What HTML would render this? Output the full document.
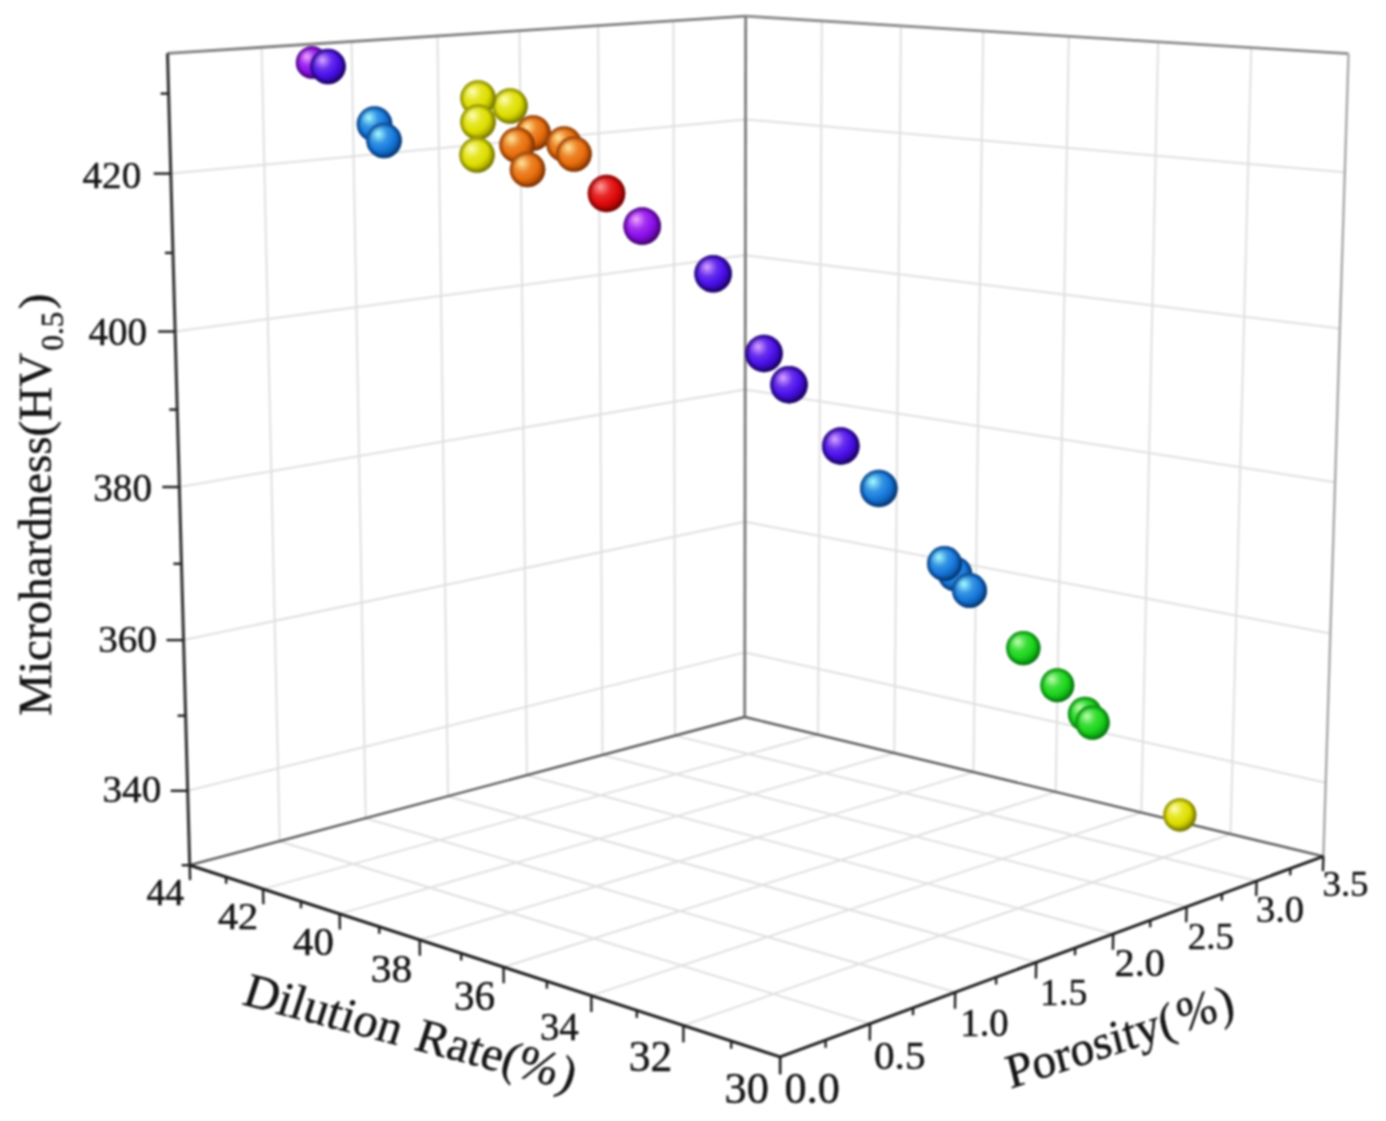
<!DOCTYPE html>
<html><head><meta charset="utf-8"><style>
html,body{margin:0;padding:0;background:#fff;}
svg{display:block;filter:blur(0.9px);}
text{font-family:"Liberation Serif",serif;fill:#141414;stroke:#141414;stroke-width:0.45px;}
</style></head><body>
<svg width="1386" height="1121" viewBox="0 0 1386 1121">
<defs><radialGradient id="gmag" cx="0.38" cy="0.36" r="0.78" fx="0.34" fy="0.32"><stop offset="0" stop-color="#f4a8ff"/><stop offset="0.13" stop-color="#d073f8"/><stop offset="0.32" stop-color="#a12ef0"/><stop offset="0.55" stop-color="#8c10ec"/><stop offset="0.82" stop-color="#5b0698"/><stop offset="1" stop-color="#3a0060"/></radialGradient><radialGradient id="rmag" cx="0.5" cy="0.5" r="0.5"><stop offset="0.72" stop-color="#3a0060" stop-opacity="0"/><stop offset="1" stop-color="#3a0060" stop-opacity="0.75"/></radialGradient><radialGradient id="gvio" cx="0.38" cy="0.36" r="0.78" fx="0.34" fy="0.32"><stop offset="0" stop-color="#dca8ff"/><stop offset="0.13" stop-color="#a973f8"/><stop offset="0.32" stop-color="#672eee"/><stop offset="0.55" stop-color="#4a10ea"/><stop offset="0.82" stop-color="#2a068e"/><stop offset="1" stop-color="#140050"/></radialGradient><radialGradient id="rvio" cx="0.5" cy="0.5" r="0.5"><stop offset="0.72" stop-color="#140050" stop-opacity="0"/><stop offset="1" stop-color="#140050" stop-opacity="0.75"/></radialGradient><radialGradient id="gblu" cx="0.38" cy="0.36" r="0.78" fx="0.34" fy="0.32"><stop offset="0" stop-color="#a8ffff"/><stop offset="0.13" stop-color="#76d0f3"/><stop offset="0.32" stop-color="#3593e3"/><stop offset="0.55" stop-color="#1878dc"/><stop offset="0.82" stop-color="#0a4c95"/><stop offset="1" stop-color="#002e66"/></radialGradient><radialGradient id="rblu" cx="0.5" cy="0.5" r="0.5"><stop offset="0.72" stop-color="#002e66" stop-opacity="0"/><stop offset="1" stop-color="#002e66" stop-opacity="0.75"/></radialGradient><radialGradient id="ggrn" cx="0.38" cy="0.36" r="0.78" fx="0.34" fy="0.32"><stop offset="0" stop-color="#c0ffb0"/><stop offset="0.13" stop-color="#87f07c"/><stop offset="0.32" stop-color="#3ddd3a"/><stop offset="0.55" stop-color="#1cd41c"/><stop offset="0.82" stop-color="#0b9412"/><stop offset="1" stop-color="#006a0c"/></radialGradient><radialGradient id="rgrn" cx="0.5" cy="0.5" r="0.5"><stop offset="0.72" stop-color="#006a0c" stop-opacity="0"/><stop offset="1" stop-color="#006a0c" stop-opacity="0.75"/></radialGradient><radialGradient id="gyel" cx="0.38" cy="0.36" r="0.78" fx="0.34" fy="0.32"><stop offset="0" stop-color="#ffffb8"/><stop offset="0.13" stop-color="#f3f378"/><stop offset="0.32" stop-color="#e5e525"/><stop offset="0.55" stop-color="#dede00"/><stop offset="0.82" stop-color="#989800"/><stop offset="1" stop-color="#6a6a00"/></radialGradient><radialGradient id="ryel" cx="0.5" cy="0.5" r="0.5"><stop offset="0.72" stop-color="#6a6a00" stop-opacity="0"/><stop offset="1" stop-color="#6a6a00" stop-opacity="0.75"/></radialGradient><radialGradient id="gorg" cx="0.38" cy="0.36" r="0.78" fx="0.34" fy="0.32"><stop offset="0" stop-color="#ffe8a0"/><stop offset="0.13" stop-color="#f7bd6c"/><stop offset="0.32" stop-color="#ed862a"/><stop offset="0.55" stop-color="#e86e0c"/><stop offset="0.82" stop-color="#a04405"/><stop offset="1" stop-color="#702800"/></radialGradient><radialGradient id="rorg" cx="0.5" cy="0.5" r="0.5"><stop offset="0.72" stop-color="#702800" stop-opacity="0"/><stop offset="1" stop-color="#702800" stop-opacity="0.75"/></radialGradient><radialGradient id="gred" cx="0.38" cy="0.36" r="0.78" fx="0.34" fy="0.32"><stop offset="0" stop-color="#ffa0a0"/><stop offset="0.13" stop-color="#f46c6c"/><stop offset="0.32" stop-color="#e62828"/><stop offset="0.55" stop-color="#e00a0a"/><stop offset="0.82" stop-color="#970404"/><stop offset="1" stop-color="#660000"/></radialGradient><radialGradient id="rred" cx="0.5" cy="0.5" r="0.5"><stop offset="0.72" stop-color="#660000" stop-opacity="0"/><stop offset="1" stop-color="#660000" stop-opacity="0.75"/></radialGradient></defs>
<rect width="1386" height="1121" fill="#fff"/>
<line x1="279.7" y1="841.2" x2="261.6" y2="47.4" stroke="#e0e0e0" stroke-width="2.0"/>
<line x1="365.7" y1="818.2" x2="351.5" y2="41.6" stroke="#e0e0e0" stroke-width="2.0"/>
<line x1="448.0" y1="796.3" x2="437.4" y2="36.0" stroke="#e0e0e0" stroke-width="2.0"/>
<line x1="526.9" y1="775.2" x2="519.5" y2="30.8" stroke="#e0e0e0" stroke-width="2.0"/>
<line x1="602.5" y1="755.0" x2="598.1" y2="25.7" stroke="#e0e0e0" stroke-width="2.0"/>
<line x1="675.0" y1="735.6" x2="673.4" y2="20.8" stroke="#e0e0e0" stroke-width="2.0"/>
<line x1="187.7" y1="790.8" x2="744.8" y2="652.4" stroke="#e0e0e0" stroke-width="2.0"/>
<line x1="183.5" y1="640.1" x2="745.0" y2="521.8" stroke="#e0e0e0" stroke-width="2.0"/>
<line x1="179.3" y1="487.0" x2="745.2" y2="389.5" stroke="#e0e0e0" stroke-width="2.0"/>
<line x1="175.1" y1="331.5" x2="745.3" y2="255.3" stroke="#e0e0e0" stroke-width="2.0"/>
<line x1="170.7" y1="173.6" x2="745.5" y2="119.4" stroke="#e0e0e0" stroke-width="2.0"/>
<line x1="1230.5" y1="834.0" x2="1251.3" y2="47.5" stroke="#e0e0e0" stroke-width="2.0"/>
<line x1="1141.3" y1="812.5" x2="1158.1" y2="41.8" stroke="#e0e0e0" stroke-width="2.0"/>
<line x1="1055.7" y1="791.9" x2="1068.8" y2="36.2" stroke="#e0e0e0" stroke-width="2.0"/>
<line x1="973.4" y1="772.1" x2="983.2" y2="30.9" stroke="#e0e0e0" stroke-width="2.0"/>
<line x1="894.3" y1="753.0" x2="900.9" y2="25.8" stroke="#e0e0e0" stroke-width="2.0"/>
<line x1="818.1" y1="734.7" x2="821.8" y2="20.9" stroke="#e0e0e0" stroke-width="2.0"/>
<line x1="744.8" y1="652.4" x2="1325.7" y2="782.7" stroke="#e0e0e0" stroke-width="2.0"/>
<line x1="745.0" y1="521.8" x2="1330.3" y2="633.6" stroke="#e0e0e0" stroke-width="2.0"/>
<line x1="745.2" y1="389.5" x2="1335.1" y2="482.2" stroke="#e0e0e0" stroke-width="2.0"/>
<line x1="745.3" y1="255.3" x2="1339.9" y2="328.5" stroke="#e0e0e0" stroke-width="2.0"/>
<line x1="745.5" y1="119.4" x2="1344.8" y2="172.3" stroke="#e0e0e0" stroke-width="2.0"/>
<line x1="683.4" y1="1025.5" x2="1230.5" y2="834.0" stroke="#e0e0e0" stroke-width="2.0"/>
<line x1="591.3" y1="995.6" x2="1141.3" y2="812.5" stroke="#e0e0e0" stroke-width="2.0"/>
<line x1="503.5" y1="967.1" x2="1055.7" y2="791.9" stroke="#e0e0e0" stroke-width="2.0"/>
<line x1="419.7" y1="939.9" x2="973.4" y2="772.1" stroke="#e0e0e0" stroke-width="2.0"/>
<line x1="339.6" y1="913.9" x2="894.3" y2="753.0" stroke="#e0e0e0" stroke-width="2.0"/>
<line x1="263.0" y1="889.1" x2="818.1" y2="734.7" stroke="#e0e0e0" stroke-width="2.0"/>
<line x1="870.0" y1="1023.8" x2="279.7" y2="841.2" stroke="#e0e0e0" stroke-width="2.0"/>
<line x1="955.2" y1="992.3" x2="365.7" y2="818.2" stroke="#e0e0e0" stroke-width="2.0"/>
<line x1="1036.2" y1="962.4" x2="448.0" y2="796.3" stroke="#e0e0e0" stroke-width="2.0"/>
<line x1="1113.2" y1="934.0" x2="526.9" y2="775.2" stroke="#e0e0e0" stroke-width="2.0"/>
<line x1="1186.6" y1="906.9" x2="602.5" y2="755.0" stroke="#e0e0e0" stroke-width="2.0"/>
<line x1="1256.6" y1="881.0" x2="675.0" y2="735.6" stroke="#e0e0e0" stroke-width="2.0"/>
<line x1="167.5" y1="53.4" x2="745.7" y2="16.2" stroke="#808080" stroke-width="2.8"/>
<line x1="745.7" y1="16.2" x2="1348.5" y2="53.6" stroke="#8c8c8c" stroke-width="2.8"/>
<line x1="744.7" y1="717.0" x2="745.7" y2="16.2" stroke="#7a7a7a" stroke-width="2.8"/>
<line x1="1323.4" y1="856.4" x2="1348.5" y2="53.6" stroke="#a8a8a8" stroke-width="2.4"/>
<line x1="189.7" y1="865.2" x2="744.7" y2="717.0" stroke="#5a5a5a" stroke-width="2.4"/>
<line x1="744.7" y1="717.0" x2="1323.4" y2="856.4" stroke="#5a5a5a" stroke-width="2.4"/>
<line x1="189.7" y1="865.2" x2="167.5" y2="53.4" stroke="#3a3a3a" stroke-width="3.2"/>
<line x1="189.7" y1="865.2" x2="780.1" y2="1056.9" stroke="#1e1e1e" stroke-width="3.0"/>
<line x1="780.1" y1="1056.9" x2="1323.4" y2="856.4" stroke="#1e1e1e" stroke-width="3.0"/>
<line x1="181.7" y1="865.2" x2="189.7" y2="865.2" stroke="#1e1e1e" stroke-width="2.4"/>
<line x1="170.7" y1="790.8" x2="187.7" y2="790.8" stroke="#1e1e1e" stroke-width="2.4"/>
<line x1="177.6" y1="715.7" x2="185.6" y2="715.7" stroke="#1e1e1e" stroke-width="2.4"/>
<line x1="166.5" y1="640.1" x2="183.5" y2="640.1" stroke="#1e1e1e" stroke-width="2.4"/>
<line x1="173.4" y1="563.8" x2="181.4" y2="563.8" stroke="#1e1e1e" stroke-width="2.4"/>
<line x1="162.3" y1="487.0" x2="179.3" y2="487.0" stroke="#1e1e1e" stroke-width="2.4"/>
<line x1="169.2" y1="409.6" x2="177.2" y2="409.6" stroke="#1e1e1e" stroke-width="2.4"/>
<line x1="158.1" y1="331.5" x2="175.1" y2="331.5" stroke="#1e1e1e" stroke-width="2.4"/>
<line x1="164.9" y1="252.9" x2="172.9" y2="252.9" stroke="#1e1e1e" stroke-width="2.4"/>
<line x1="153.7" y1="173.6" x2="170.7" y2="173.6" stroke="#1e1e1e" stroke-width="2.4"/>
<line x1="160.6" y1="93.6" x2="168.6" y2="93.6" stroke="#1e1e1e" stroke-width="2.4"/>
<line x1="780.1" y1="1056.9" x2="780.1" y2="1074.2" stroke="#1e1e1e" stroke-width="2.4"/>
<line x1="731.2" y1="1041.0" x2="731.2" y2="1048.7" stroke="#1e1e1e" stroke-width="2.4"/>
<line x1="683.4" y1="1025.5" x2="683.4" y2="1042.4" stroke="#1e1e1e" stroke-width="2.4"/>
<line x1="636.8" y1="1010.4" x2="636.8" y2="1017.9" stroke="#1e1e1e" stroke-width="2.4"/>
<line x1="591.3" y1="995.6" x2="591.4" y2="1012.1" stroke="#1e1e1e" stroke-width="2.4"/>
<line x1="546.9" y1="981.2" x2="546.9" y2="988.6" stroke="#1e1e1e" stroke-width="2.4"/>
<line x1="503.5" y1="967.1" x2="503.7" y2="983.2" stroke="#1e1e1e" stroke-width="2.4"/>
<line x1="461.1" y1="953.4" x2="461.2" y2="960.5" stroke="#1e1e1e" stroke-width="2.4"/>
<line x1="419.7" y1="939.9" x2="419.9" y2="955.7" stroke="#1e1e1e" stroke-width="2.4"/>
<line x1="379.2" y1="926.8" x2="379.3" y2="933.8" stroke="#1e1e1e" stroke-width="2.4"/>
<line x1="339.6" y1="913.9" x2="339.9" y2="929.4" stroke="#1e1e1e" stroke-width="2.4"/>
<line x1="300.9" y1="901.3" x2="301.0" y2="908.2" stroke="#1e1e1e" stroke-width="2.4"/>
<line x1="263.0" y1="889.1" x2="263.4" y2="904.2" stroke="#1e1e1e" stroke-width="2.4"/>
<line x1="226.0" y1="877.0" x2="226.2" y2="883.8" stroke="#1e1e1e" stroke-width="2.4"/>
<line x1="189.7" y1="865.2" x2="190.1" y2="880.1" stroke="#1e1e1e" stroke-width="2.4"/>
<line x1="780.1" y1="1056.9" x2="780.1" y2="1074.2" stroke="#1e1e1e" stroke-width="2.4"/>
<line x1="825.6" y1="1040.1" x2="825.6" y2="1047.8" stroke="#1e1e1e" stroke-width="2.4"/>
<line x1="870.0" y1="1023.8" x2="869.8" y2="1040.6" stroke="#1e1e1e" stroke-width="2.4"/>
<line x1="913.1" y1="1007.8" x2="913.0" y2="1015.3" stroke="#1e1e1e" stroke-width="2.4"/>
<line x1="955.2" y1="992.3" x2="955.0" y2="1008.7" stroke="#1e1e1e" stroke-width="2.4"/>
<line x1="996.2" y1="977.2" x2="996.1" y2="984.5" stroke="#1e1e1e" stroke-width="2.4"/>
<line x1="1036.2" y1="962.4" x2="1035.9" y2="978.5" stroke="#1e1e1e" stroke-width="2.4"/>
<line x1="1075.2" y1="948.0" x2="1075.0" y2="955.2" stroke="#1e1e1e" stroke-width="2.4"/>
<line x1="1113.2" y1="934.0" x2="1112.9" y2="949.7" stroke="#1e1e1e" stroke-width="2.4"/>
<line x1="1150.3" y1="920.3" x2="1150.2" y2="927.2" stroke="#1e1e1e" stroke-width="2.4"/>
<line x1="1186.6" y1="906.9" x2="1186.2" y2="922.2" stroke="#1e1e1e" stroke-width="2.4"/>
<line x1="1222.0" y1="893.8" x2="1221.8" y2="900.6" stroke="#1e1e1e" stroke-width="2.4"/>
<line x1="1256.6" y1="881.0" x2="1256.2" y2="896.0" stroke="#1e1e1e" stroke-width="2.4"/>
<line x1="1290.4" y1="868.6" x2="1290.2" y2="875.3" stroke="#1e1e1e" stroke-width="2.4"/>
<line x1="1323.4" y1="856.4" x2="1322.9" y2="871.1" stroke="#1e1e1e" stroke-width="2.4"/>
<text x="0" y="0" font-size="38.63" transform="translate(82.6,187.8) scale(1.011,1)">420</text>
<text x="0" y="0" font-size="39.37" transform="translate(88.5,344.8) scale(0.992,1)">400</text>
<text x="0" y="0" font-size="39.48" transform="translate(93.3,501.0) scale(0.991,1)">380</text>
<text x="0" y="0" font-size="38.00" transform="translate(98.2,652.1) scale(1.029,1)">360</text>
<text x="0" y="0" font-size="38.48" transform="translate(102.5,802.3) scale(1.018,1)">340</text>
<text x="0" y="0" font-size="37.62" transform="translate(146.4,904.7) scale(0.998,1)">44</text>
<text x="0" y="0" font-size="38.59" transform="translate(217.9,929.2) scale(1.045,1)">42</text>
<text x="0" y="0" font-size="40.46" transform="translate(293.0,955.1) scale(1.008,1)">40</text>
<text x="0" y="0" font-size="40.36" transform="translate(370.8,982.1) scale(1.027,1)">38</text>
<text x="0" y="0" font-size="41.96" transform="translate(454.0,1010.1) scale(0.982,1)">36</text>
<text x="0" y="0" font-size="40.35" transform="translate(539.9,1039.5) scale(0.964,1)">34</text>
<text x="0" y="0" font-size="43.67" transform="translate(628.7,1070.5) scale(0.998,1)">32</text>
<text x="0" y="0" font-size="44.73" transform="translate(724.5,1103.3) scale(0.993,1)">30</text>
<text x="0" y="0" font-size="44.49" transform="translate(784.6,1103.1) scale(0.994,1)">0.0</text>
<text x="0" y="0" font-size="40.44" transform="translate(874.0,1069.1) scale(1.020,1)">0.5</text>
<text x="0" y="0" font-size="39.09" transform="translate(960.3,1035.7) scale(0.990,1)">1.0</text>
<text x="0" y="0" font-size="38.80" transform="translate(1040.1,1004.7) scale(0.975,1)">1.5</text>
<text x="0" y="0" font-size="39.09" transform="translate(1114.5,976.0) scale(1.032,1)">2.0</text>
<text x="0" y="0" font-size="38.18" transform="translate(1187.8,948.7) scale(0.969,1)">2.5</text>
<text x="0" y="0" font-size="38.73" transform="translate(1255.9,922.2) scale(0.996,1)">3.0</text>
<text x="0" y="0" font-size="36.53" transform="translate(1322.4,895.7) scale(1.012,1)">3.5</text>
<text font-size="47" transform="translate(50.8,715.8) rotate(-90)">Microhardness(HV<tspan font-size="31" dx="2.5" dy="12">0.5</tspan><tspan dx="2.5" dy="-12">)</tspan></text>
<text font-size="48.5" transform="matrix(0.9673,0.2538,-0.3090,0.9511,240.7,1004.0)">Dilution<tspan dx="4"> Rate(%</tspan><tspan dx="2">)</tspan></text>
<text font-size="48" transform="matrix(0.9500,-0.3123,0.2419,0.9703,1010.4,1088.8)">Porosity(<tspan dx="4">%</tspan><tspan dx="2" dy="1">)</tspan></text>
<circle cx="312" cy="62.5" r="16.2" fill="url(#gmag)"/><circle cx="312" cy="62.5" r="16.2" fill="url(#rmag)"/>
<circle cx="328" cy="66.5" r="17.8" fill="url(#gvio)"/><circle cx="328" cy="66.5" r="17.8" fill="url(#rvio)"/>
<circle cx="374.5" cy="124" r="17.8" fill="url(#gblu)"/><circle cx="374.5" cy="124" r="17.8" fill="url(#rblu)"/>
<circle cx="384" cy="140.5" r="17.8" fill="url(#gblu)"/><circle cx="384" cy="140.5" r="17.8" fill="url(#rblu)"/>
<circle cx="510" cy="106" r="17.8" fill="url(#gyel)"/><circle cx="510" cy="106" r="17.8" fill="url(#ryel)"/>
<circle cx="478" cy="98" r="17.8" fill="url(#gyel)"/><circle cx="478" cy="98" r="17.8" fill="url(#ryel)"/>
<circle cx="478" cy="122" r="17.8" fill="url(#gyel)"/><circle cx="478" cy="122" r="17.8" fill="url(#ryel)"/>
<circle cx="477" cy="155" r="17.8" fill="url(#gyel)"/><circle cx="477" cy="155" r="17.8" fill="url(#ryel)"/>
<circle cx="533" cy="133" r="17.8" fill="url(#gorg)"/><circle cx="533" cy="133" r="17.8" fill="url(#rorg)"/>
<circle cx="517" cy="145" r="17.8" fill="url(#gorg)"/><circle cx="517" cy="145" r="17.8" fill="url(#rorg)"/>
<circle cx="564" cy="144" r="17.8" fill="url(#gorg)"/><circle cx="564" cy="144" r="17.8" fill="url(#rorg)"/>
<circle cx="574" cy="154" r="17.8" fill="url(#gorg)"/><circle cx="574" cy="154" r="17.8" fill="url(#rorg)"/>
<circle cx="527.5" cy="169.5" r="17.8" fill="url(#gorg)"/><circle cx="527.5" cy="169.5" r="17.8" fill="url(#rorg)"/>
<circle cx="606.5" cy="193.5" r="18.8" fill="url(#gred)"/><circle cx="606.5" cy="193.5" r="18.8" fill="url(#rred)"/>
<circle cx="642.2" cy="226.1" r="18.8" fill="url(#gmag)"/><circle cx="642.2" cy="226.1" r="18.8" fill="url(#rmag)"/>
<circle cx="713.1" cy="273.8" r="18.8" fill="url(#gvio)"/><circle cx="713.1" cy="273.8" r="18.8" fill="url(#rvio)"/>
<circle cx="764" cy="353.5" r="18.8" fill="url(#gvio)"/><circle cx="764" cy="353.5" r="18.8" fill="url(#rvio)"/>
<circle cx="789" cy="384.7" r="18.8" fill="url(#gvio)"/><circle cx="789" cy="384.7" r="18.8" fill="url(#rvio)"/>
<circle cx="840.8" cy="446" r="18.8" fill="url(#gvio)"/><circle cx="840.8" cy="446" r="18.8" fill="url(#rvio)"/>
<circle cx="878.8" cy="488.5" r="18.8" fill="url(#gblu)"/><circle cx="878.8" cy="488.5" r="18.8" fill="url(#rblu)"/>
<circle cx="955" cy="574" r="17.3" fill="url(#gblu)"/><circle cx="955" cy="574" r="17.3" fill="url(#rblu)"/>
<circle cx="944.5" cy="563.5" r="17.5" fill="url(#gblu)"/><circle cx="944.5" cy="563.5" r="17.5" fill="url(#rblu)"/>
<circle cx="969.5" cy="590.5" r="17.5" fill="url(#gblu)"/><circle cx="969.5" cy="590.5" r="17.5" fill="url(#rblu)"/>
<circle cx="1023.3" cy="648.1" r="17.2" fill="url(#ggrn)"/><circle cx="1023.3" cy="648.1" r="17.2" fill="url(#rgrn)"/>
<circle cx="1057.3" cy="685.3" r="17.0" fill="url(#ggrn)"/><circle cx="1057.3" cy="685.3" r="17.0" fill="url(#rgrn)"/>
<circle cx="1085" cy="714" r="17.2" fill="url(#ggrn)"/><circle cx="1085" cy="714" r="17.2" fill="url(#rgrn)"/>
<circle cx="1092.5" cy="722.5" r="17.2" fill="url(#ggrn)"/><circle cx="1092.5" cy="722.5" r="17.2" fill="url(#rgrn)"/>
<circle cx="1179.8" cy="814.8" r="16.6" fill="url(#gyel)"/><circle cx="1179.8" cy="814.8" r="16.6" fill="url(#ryel)"/>
</svg></body></html>
